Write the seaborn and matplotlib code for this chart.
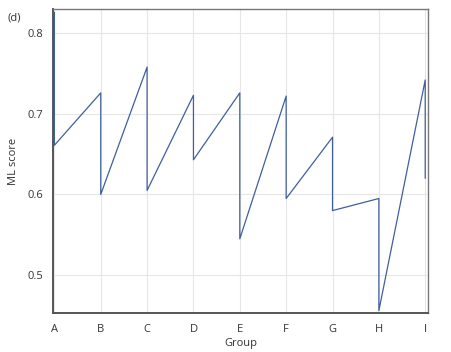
import matplotlib
matplotlib.use("Agg")
import matplotlib.pyplot as plt
import seaborn as sns
import pandas as pd

groups = ["A", "B", "C", "D", "E", "F", "G", "H", "I"]
high = [0.826, 0.726, 0.758, 0.723, 0.726, 0.722, 0.671, 0.595, 0.742]
low = [0.661, 0.600, 0.605, 0.643, 0.545, 0.595, 0.580, 0.456, 0.620]
yticks = [0.5, 0.6, 0.7, 0.8]

sns.set_theme(style="white")
plt.rcParams['font.family'] = ['Open Sans', 'DejaVu Sans']

xs, ys = [], []
for i, g in enumerate(groups):
    xs += [i, i]
    ys += [high[i], low[i]]
df = pd.DataFrame({"x": xs, "y": ys, "order": range(len(xs))})

fig = plt.figure(figsize=(4.51, 3.52), dpi=100)
ax = fig.add_axes([53/451, 1 - 313/352, (428-53)/451, (313-9)/352])
sns.lineplot(data=df, x="x", y="y", sort=False, estimator=None,
             color="#3f5f9e", linewidth=0.9, ax=ax)
ax.set_xlim(-0.03, 8.06)
ax.set_ylim(0.453, 0.83)
ax.set_xticks(range(len(groups)))
ax.set_xticklabels(groups)
ax.set_yticks(yticks)
ax.set_yticklabels([f"{v:.1f}" for v in yticks])
ax.grid(True, color="#e6e6e6", linewidth=0.8)
ax.set_axisbelow(True)
ax.tick_params(axis="y", length=0, labelsize=8, colors="#333333", pad=7)
ax.tick_params(axis="x", length=0, labelsize=8, colors="#333333", pad=8)
ax.set_xlabel("Group", fontsize=8, color="#333333", labelpad=2)
ax.set_ylabel("ML score", fontsize=8, color="#333333", labelpad=6)
for s in ["left", "bottom"]:
    ax.spines[s].set_color("#555555")
    ax.spines[s].set_linewidth(1.4)
for s in ["top", "right"]:
    ax.spines[s].set_color("#777777")
    ax.spines[s].set_linewidth(1.0)
fig.text(8/451, 1 - 21/352, "(d)", fontsize=8, color="#333333")
fig.savefig("out.png", dpi=100)
